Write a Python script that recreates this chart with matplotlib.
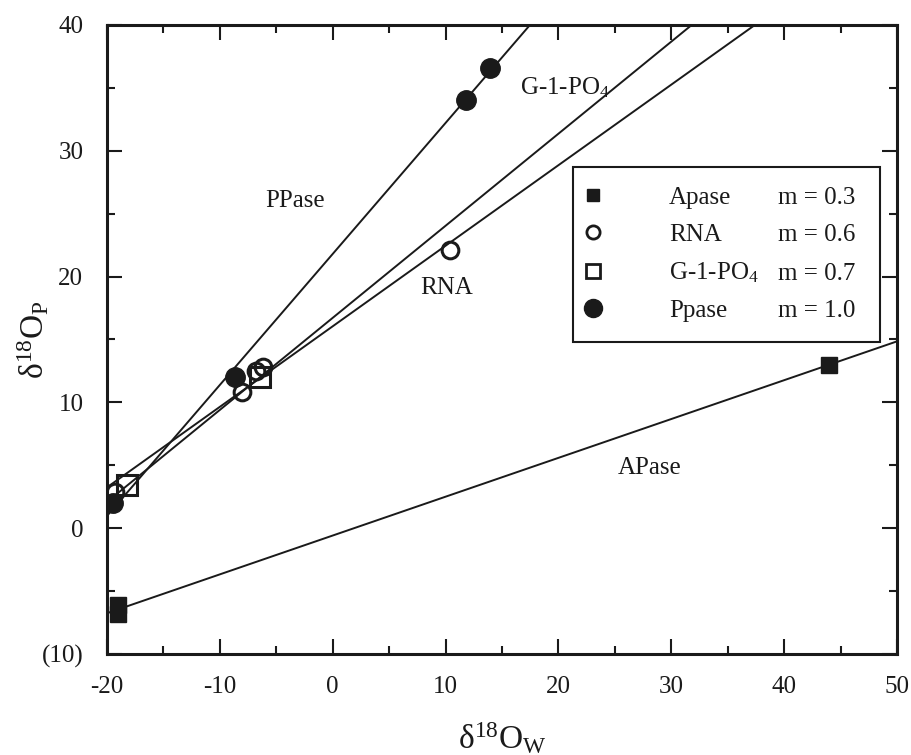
import matplotlib
matplotlib.use("Agg")
import matplotlib.pyplot as plt
from matplotlib.lines import Line2D
from matplotlib.ticker import MultipleLocator
import numpy as np

plt.rcParams['font.family'] = 'Liberation Serif'
plt.rcParams['mathtext.fontset'] = 'custom'
plt.rcParams['mathtext.rm'] = 'Liberation Serif'
plt.rcParams['mathtext.it'] = 'Liberation Serif:italic'
plt.rcParams['axes.unicode_minus'] = False

# data (delta 18O water vs phosphate)
apase_x = [-19.0, -19.0, 44.0]
apase_y = [-6.1, -6.8, 13.0]
rna_x = [-19.3, -8.0, -6.8, -6.2, 10.4]
rna_y = [2.9, 10.8, 12.5, 12.8, 22.1]
g1p_x = [-18.2, -6.45]
g1p_y = [3.4, 12.0]
ppase_x = [-19.5, -8.7, 11.8, 13.9]
ppase_y = [2.0, 12.0, 34.0, 36.6]

names = ['Apase', 'RNA', 'G-1-PO$_4$', 'Ppase']
slopes = ['m = 0.3', 'm = 0.6', 'm = 0.7', 'm = 1.0']
yticklabels = ['(10)', '0', '10', '20', '30', '40']

k = '#1a1a1a'
fs = 18

fig = plt.figure(figsize=(9.12, 7.55), dpi=100)
ax = fig.add_axes([0.1173, 0.1338, 0.8663, 0.8331])

xlim = np.array([-20, 50])
for x, y in [(apase_x, apase_y), (rna_x, rna_y), (g1p_x, g1p_y), (ppase_x, ppase_y)]:
    m, b = np.polyfit(x, y, 1)
    ax.plot(xlim, m * xlim + b, color=k, lw=1.4, zorder=2)

ax.plot(apase_x, apase_y, 's', ms=11, color=k, ls='none', zorder=3)
ax.plot(rna_x, rna_y, 'o', ms=12, mfc='none', mec=k, mew=2.2, ls='none', zorder=3)
ax.plot(g1p_x, g1p_y, 's', ms=14, mfc='none', mec=k, mew=2.2, ls='none', zorder=3)
ax.plot(ppase_x, ppase_y, 'o', ms=14, color=k, ls='none', zorder=3)

# labels beside the lines
ax.text(-3.35, 26.0, 'PPase', ha='center', va='center', fontsize=18, color=k)
ax.text(10.1, 19.1, 'RNA', ha='center', va='center', fontsize=18, color=k)
ax.text(16.6, 35.0, 'G-1-PO$_4$', ha='left', va='center', fontsize=18, color=k)
ax.text(28.1, 4.8, 'APase', ha='center', va='center', fontsize=18, color=k)

ax.set_xlim(-20, 50)
ax.set_ylim(-10, 40)
ax.set_xticks(range(-20, 51, 10))
ax.set_yticks(range(-10, 41, 10))
ax.set_yticklabels(yticklabels)
ax.xaxis.set_minor_locator(MultipleLocator(5))
ax.yaxis.set_minor_locator(MultipleLocator(5))
ax.tick_params(which='both', direction='in', top=True, right=True, color=k,
               labelsize=18, labelcolor=k)
ax.tick_params(which='major', length=11, width=1.5)
ax.tick_params(which='minor', length=6, width=1.5)
ax.tick_params(axis='x', pad=16)
ax.tick_params(axis='y', pad=17)
for s in ax.spines.values():
    s.set_linewidth(2.2)
    s.set_color(k)

ax.set_xlabel('δ$^{18}$O$_{\\mathrm{W}}$', fontsize=24, color=k)
ax.set_ylabel('δ$^{18}$O$_{\\mathrm{P}}$', fontsize=24, color=k)
ax.xaxis.set_label_coords(0.5, -0.105)
ax.yaxis.set_label_coords(-0.071, 0.5)

handles = [
    Line2D([], [], marker='s', ms=8.5, color=k, ls='none'),
    Line2D([], [], marker='o', ms=9.5, mfc='none', mec=k, mew=2.0, ls='none'),
    Line2D([], [], marker='s', ms=10, mfc='none', mec=k, mew=2.0, ls='none'),
    Line2D([], [], marker='o', ms=13, color=k, ls='none'),
]
leg = ax.legend(handles, names, loc='upper left',
                bbox_to_anchor=(0.590, 0.499, 0.388, 0.275), mode='expand',
                borderaxespad=0, fontsize=fs, frameon=True, fancybox=False,
                edgecolor=k, framealpha=1, handlelength=0.05, handletextpad=3.0,
                borderpad=0.78, labelspacing=0.58)
leg.get_frame().set_linewidth(1.5)
for t in leg.get_texts():
    t.set_color(k)

# slope column, lined up with each legend row
for h, s in zip(leg.legend_handles, slopes):
    ax.annotate(s, xy=(0.849, 0.5), xycoords=('axes fraction', h),
                xytext=(0, -2), textcoords='offset points',
                ha='left', va='center', fontsize=fs, color=k, zorder=6)

fig.savefig('out.png', dpi=100)
